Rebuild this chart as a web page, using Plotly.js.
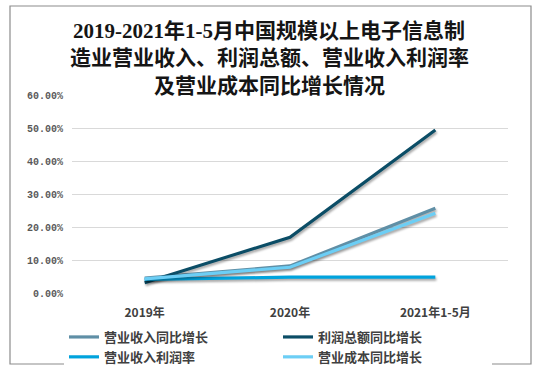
<!DOCTYPE html>
<html>
<head>
<meta charset="utf-8">
<script src="https://cdn.plot.ly/plotly-3.0.1.min.js"></script>
<style>
html,body{margin:0;padding:0;background:#fff;}
#chart{width:557px;height:372px;}
.scatterlayer .js-line{filter:drop-shadow(1px 2px 1px rgba(0,0,0,0.35));}
</style>
</head>
<body>
<div id="chart"></div>
<script>
const categories = ["2019年", "2020年", "2021年1-5月"];
const revenueGrowth = [4.5, 8.2, 25.7];
const profitGrowth = [3.1, 16.9, 49.4];
const profitMargin = [4.1, 4.8, 4.8];
const costGrowth = [4.3, 7.8, 24.2];
const seriesNames = ["营业收入同比增长", "利润总额同比增长", "营业收入利润率", "营业成本同比增长"];
const seriesColors = ["#5F8FA6", "#0B4D66", "#00A3DD", "#6CCEF5"];
const titleLines = ["2019-2021年1-5月中国规模以上电子信息制", "造业营业收入、利润总额、营业收入利润率", "及营业成本同比增长情况"];
const yTicks = [0, 10, 20, 30, 40, 50, 60];
const yTickText = yTicks.map(v => v.toFixed(2) + "%");

const seriesValues = [revenueGrowth, profitGrowth, profitMargin, costGrowth];
const traces = seriesValues.map((vals, i) => ({
  type: "scatter",
  mode: "lines",
  x: categories,
  y: vals,
  name: seriesNames[i],
  line: {color: seriesColors[i], width: 3.2},
  hoverinfo: "skip"
}));

const W = 557, H = 372, L = 72, R = 49, T = 95, B = 79;
const pw = W - L - R, ph = H - T - B;
const px = x => (x - L) / pw;
const py = y => (H - B - y) / ph;

const titleY = [31, 58, 86];
const annotations = titleLines.map((t, i) => ({
  text: t, xref: "paper", yref: "paper",
  x: px(269), y: py(titleY[i]), xanchor: "center", yanchor: "middle",
  showarrow: false,
  font: {family: "Liberation Serif, Noto Sans CJK SC, serif", size: 21, color: "#151515", weight: "bold"}
}));

const layout = {
  width: W, height: H,
  margin: {l: L, r: R, t: T, b: B, pad: 0, autoexpand: false},
  paper_bgcolor: "#ffffff", plot_bgcolor: "#ffffff",
  showlegend: true,
  legend: {
    orientation: "h", xref: "paper", yref: "paper",
    x: px(64), xanchor: "left", y: py(322), yanchor: "top",
    entrywidth: 169, entrywidthmode: "pixels", traceorder: "normal",
    font: {family: "Noto Sans CJK SC, sans-serif", size: 13, color: "#404040", weight: "bold"},
    itemwidth: 30
  },
  xaxis: {
    type: "category", range: [-0.5, 2.5], showgrid: false, zeroline: false, showline: false, ticks: "",
    ticklabelstandoff: 11,
    tickfont: {family: "Noto Sans CJK SC, sans-serif", size: 12, color: "#404040", weight: "bold"},
    fixedrange: true
  },
  yaxis: {
    range: [0, 60], tickvals: yTicks, ticktext: yTickText,
    showgrid: true, gridcolor: "#d9d9d9", gridwidth: 1, zeroline: false, showline: false, ticks: "",
    ticklabelstandoff: 8,
    tickfont: {family: "Liberation Mono, DejaVu Sans Mono, monospace", size: 10, color: "#595959", weight: "bold"},
    fixedrange: true
  },
  shapes: [{
    type: "rect", xref: "paper", yref: "paper",
    x0: px(10), x1: px(531), y0: py(364), y1: py(6),
    line: {color: "#8c8c8c", width: 1.2}, fillcolor: "rgba(0,0,0,0)", layer: "below"
  }],
  annotations: annotations
};

Plotly.newPlot("chart", traces, layout, {staticPlot: true, displayModeBar: false});
</script>
</body>
</html>
